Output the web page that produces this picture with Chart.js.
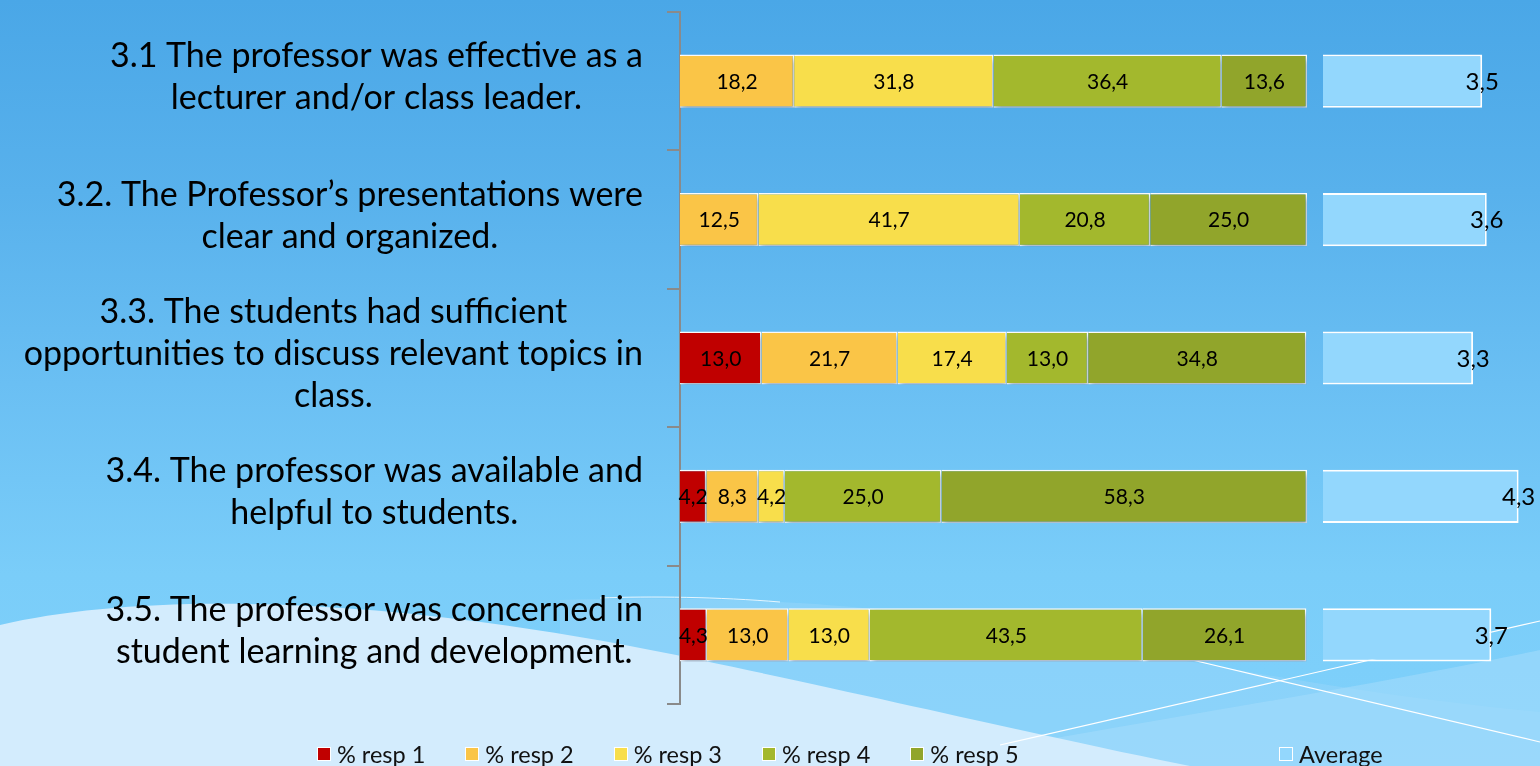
<!DOCTYPE html>
<html>
<head>
<meta charset="utf-8">
<title>Professor evaluation</title>
<script src="https://cdn.jsdelivr.net/npm/chart.js@4.4.1/dist/chart.umd.min.js"></script>
<style>
  html, body { margin: 0; padding: 0; width: 1540px; height: 766px; overflow: hidden; }
  body {
    position: relative;
    font-family: Lato, "Noto Sans", sans-serif;
    background: linear-gradient(to bottom, #4aa7e7 0%, #58b1ec 25%, #6abff3 50%, #7acdf9 75%, #80d1fb 100%);
  }
  #bg { position: absolute; left: 0; top: 0; }
  #chart { position: absolute; left: 0; top: 0; }
  .legend { position: absolute; top: 740px; display: flex; font-size: 23.5px; color: #111; line-height: 28px; }
  .legend .it { display: flex; align-items: center; margin-right: 40px; }
  .legend .sw { width: 12px; height: 12px; border: 1.5px solid #fff; margin-right: 6px; }
  #legMain { left: 317px; }
  #legAvg { left: 1279px; }
</style>
</head>
<body>
<!-- fondo decorativo (ondas del tema) -->
<svg id="bg" width="1540" height="766">
  <path d="M560,600 C680,596 800,600 900,612 C1100,640 1300,690 1540,712 L1540,766 L560,766 Z" fill="#95d5fa" opacity="0.55"/>
  <path d="M600,598 C650,596 720,597 780,602" stroke="#ffffff" stroke-width="1" fill="none" opacity="0.8"/>
  <path d="M900,766 C1150,720 1350,690 1540,650 L1540,766 Z" fill="#a6dcfb" opacity="0.55"/>
  <path d="M0,625 C150,590 400,596 700,660 C900,702 1050,738 1190,766 L0,766 Z" fill="#d3ecfd"/>
  <line x1="1000" y1="745" x2="1540" y2="621" stroke="#ffffff" stroke-width="1.2"/>
  <line x1="1150" y1="650" x2="1540" y2="742" stroke="#ffffff" stroke-width="1.2"/>
</svg>
<canvas id="chart" width="1540" height="766"></canvas>
<div class="legend" id="legMain"></div>
<div class="legend" id="legAvg"></div>

<script>
// Datos (porcentajes por respuesta y promedio)
const categories = [
  ["3.1 The professor was effective as a", "lecturer and/or class leader."],
  ["3.2. The Professor\u2019s presentations were", "clear and organized."],
  ["3.3. The students had sufficient", "opportunities to discuss relevant topics in", "class."],
  ["3.4. The professor was available and", "helpful to students."],
  ["3.5. The professor was concerned in", "student learning and development."]
];
const resp1 = [null, null, 13.0, 4.2, 4.3];
const resp2 = [18.2, 12.5, 21.7, 8.3, 13.0];
const resp3 = [31.8, 41.7, 17.4, 4.2, 13.0];
const resp4 = [36.4, 20.8, 13.0, 25.0, 43.5];
const resp5 = [13.6, 25.0, 34.8, 58.3, 26.1];
const average = [3.5, 3.6, 3.3, 4.3, 3.7];

const seriesNames = ["% resp 1", "% resp 2", "% resp 3", "% resp 4", "% resp 5"];
const seriesColors = ["#c00000", "#fac547", "#f8de4b", "#a3b82d", "#91a52b"];
const avgColor = "#93d7fd";

function fmt(v) {
  return v.toFixed(1).replace(".", ",");
}

// etiquetas del eje Y: bloque centrado, alineado a la derecha
const yLabelPlugin = {
  id: "yLabels",
  afterDraw(chart) {
    const ctx = chart.ctx;
    const y = chart.scales.y;
    const right = 643;
    const lh = 42;
    ctx.save();
    ctx.font = "34px Lato, 'Noto Sans', sans-serif";
    ctx.fillStyle = "#000";
    ctx.textAlign = "center";
    ctx.textBaseline = "middle";
    categories.forEach((lines, i) => {
      const cy = y.getPixelForValue(i) - 4;
      const w = Math.max(...lines.map(l => ctx.measureText(l).width));
      const cx = right - w / 2;
      const top = cy - (lines.length - 1) * lh / 2;
      lines.forEach((l, k) => ctx.fillText(l, cx, top + k * lh));
    });
    ctx.restore();
  }
};

// sombra de las barras apiladas + valores
const barPlugin = {
  id: "barLabels",
  beforeDatasetDraw(chart, args) {
    const ctx = chart.ctx;
    ctx.save();
    if (args.index < 5) {
      ctx.shadowColor = "rgba(0, 40, 90, 0.35)";
      ctx.shadowBlur = 6;
      ctx.shadowOffsetX = 2;
      ctx.shadowOffsetY = 4;
    }
  },
  afterDatasetDraw(chart) {
    chart.ctx.restore();
  },
  afterDatasetsDraw(chart) {
    const ctx = chart.ctx;
    ctx.save();
    ctx.fillStyle = "#000";
    ctx.textBaseline = "middle";
    ctx.textAlign = "center";
    chart.data.datasets.forEach((ds, di) => {
      const meta = chart.getDatasetMeta(di);
      meta.data.forEach((el, i) => {
        const v = ds.data[i];
        if (v === null || v === 0) return;
        if (di < 5) {
          ctx.font = "21px Lato, 'Noto Sans', sans-serif";
          ctx.fillText(fmt(v), (el.x + el.base) / 2, el.y + 1);
        } else {
          ctx.font = "24px Lato, 'Noto Sans', sans-serif";
          ctx.fillText(fmt(v), el.x, el.y + 1);
        }
      });
    });
    ctx.restore();
  }
};

const pctSets = [resp1, resp2, resp3, resp4, resp5].map((d, i) => ({
  label: seriesNames[i],
  data: d,
  backgroundColor: seriesColors[i],
  borderColor: "#ffffff",
  borderWidth: 1.5,
  xAxisID: "x",
  stack: "all",
  categoryPercentage: 0.62,
  barPercentage: 0.62
}));

const avgSet = {
  label: "Average",
  data: average,
  backgroundColor: avgColor,
  borderColor: "#ffffff",
  borderWidth: 2,
  xAxisID: "x2",
  stack: "all",
  categoryPercentage: 0.62,
  barPercentage: 0.62
};

const chart = new Chart(document.getElementById("chart").getContext("2d"), {
  type: "bar",
  data: {
    labels: categories,
    datasets: [...pctSets, avgSet]
  },
  options: {
    indexAxis: "y",
    responsive: false,
    animation: false,
    layout: { padding: { top: 12, bottom: 62, left: 0, right: 0 } },
    plugins: {
      legend: { display: false },
      tooltip: { enabled: false }
    },
    scales: {
      y: {
        position: "left",
        grid: { offset: true, drawOnChartArea: false, tickLength: 13, color: "#8a8a8a", lineWidth: 2 },
        border: { color: "#8a8a8a", width: 2 },
        ticks: { display: false },
        afterFit(s) { s.width = 680; }
      },
      x: {
        type: "linear", stacked: true, min: 0, max: 100,
        display: false, position: "bottom", stack: "row", stackWeight: 627
      },
      x2: {
        type: "linear", min: -0.35, max: 4.77,
        display: false, position: "bottom", stack: "row", stackWeight: 233
      }
    }
  },
  plugins: [yLabelPlugin, barPlugin]
});

// leyenda HTML a partir de los datasets
function addLegend(el, sets) {
  sets.forEach(ds => {
    const it = document.createElement("div");
    it.className = "it";
    it.innerHTML = `<span class="sw" style="background:${ds.backgroundColor}"></span><span>${ds.label}</span>`;
    el.appendChild(it);
  });
}
addLegend(document.getElementById("legMain"), pctSets);
addLegend(document.getElementById("legAvg"), [avgSet]);
</script>
</body>
</html>
